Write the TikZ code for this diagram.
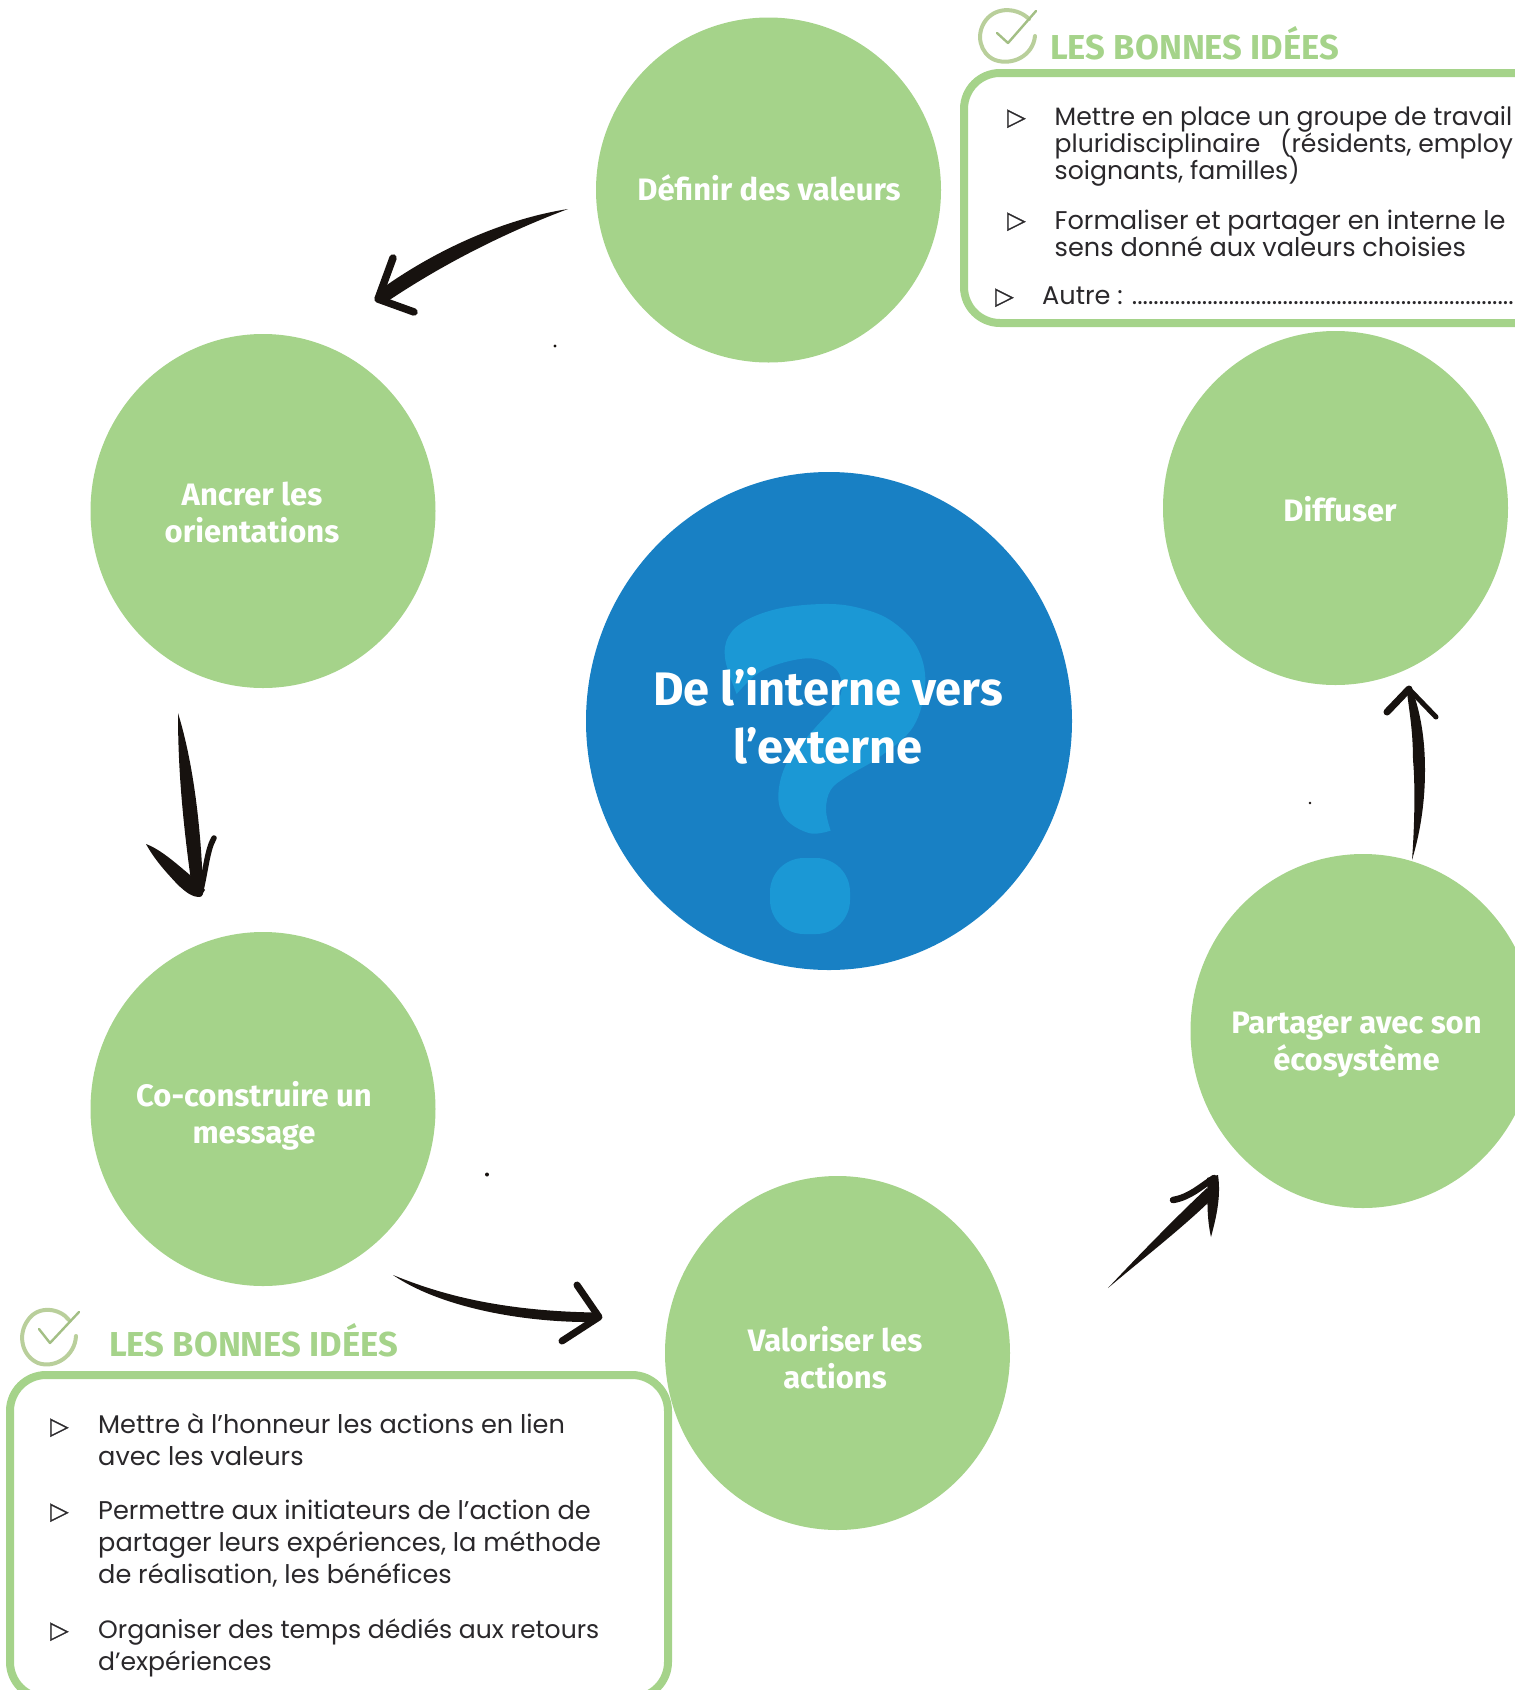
\documentclass[tikz,border=0pt]{standalone}
\usepackage{fontspec}
\setmainfont{Poppins}
\newfontfamily\circfont{Fira Sans}[UprightFont=* Bold]
\newfontfamily\bulfont{DejaVu Sans}[FakeBold=0.8]
\definecolor{vert}{HTML}{A5D38A}
\definecolor{bleu}{HTML}{1880C4}
\definecolor{bleuclair}{HTML}{1B98D5}
\definecolor{encre}{HTML}{2A282B}
\definecolor{pinceau}{HTML}{17120F}
\definecolor{icone}{HTML}{B9CF9B}
\definecolor{iconefonce}{HTML}{A3BF85}
\usetikzlibrary{shapes.geometric}
\newcommand{\serre}{\lineskiplimit -30pt\relax}
\tikzset{
  etape/.style={ellipse,fill=vert,inner sep=0pt,minimum width=345pt,minimum height=354pt},
  etlabel/.style={text=white,font=\circfont\fontsize{31}{37}\selectfont,align=center,inner sep=0pt,anchor=base},
  titre/.style={text=white,font=\circfont\fontsize{47}{57.5}\selectfont,align=center,inner sep=0pt,anchor=base},
  cadre/.style={draw=vert,line width=8pt,fill=white,rounded corners=36pt},
  entete/.style={text=vert,font=\circfont\fontsize{34.6}{34.6}\selectfont,inner sep=0pt,anchor=base west},
  corpsA/.style={text=encre,font=\serre\fontsize{25.6}{26.6}\selectfont,align=left,inner sep=0pt,anchor=base west},
  corpsAA/.style={text=encre,font=\serre\fontsize{25.1}{26.6}\selectfont,align=left,inner sep=0pt,anchor=base west},
  corpsB/.style={text=encre,font=\serre\fontsize{25.6}{32}\selectfont,align=left,inner sep=0pt,anchor=base west},
  corpsBB/.style={text=encre,font=\serre\fontsize{25.1}{32}\selectfont,align=left,inner sep=0pt,anchor=base west},
  puce/.style={text=encre,font=\bulfont\fontsize{24}{24}\selectfont,inner sep=0pt,anchor=base west},
  brosse/.style={fill=pinceau},
  barbe/.style={draw=pinceau,line cap=round,line join=round},
}
\begin{document}
\begin{tikzpicture}[x=1pt,y=-1pt]
\useasboundingbox (0,0) rectangle (1515,1690);
\clip (0,0) rectangle (1515,1690);
% boxes
\draw[cadre] (964,73) rectangle (1560,323);
\draw[cadre] (10,1375) rectangle (668,1698);
% step circles
\node[etape,minimum height=345pt] (definir) at (768.5,190) {};
\node[etape] (ancrer) at (263,511) {};
\node[etape] (coconstruire) at (263,1109) {};
\node[etape] (valoriser) at (837.5,1353) {};
\node[etape] (partager) at (1363,1031) {};
\node[etape] (diffuser) at (1335.5,508) {};
% centre
\node[ellipse,fill=bleu,inner sep=0pt,minimum width=486pt,minimum height=498pt] (centre) at (829,721) {};
\begin{scope}[shift={(580,470)},x=0.3333pt,y=-0.3333pt]
\fill[bleuclair] plot[smooth,tension=0.6] coordinates {(752,1082) (738,1020) (752,960) (800,920) (900,860) (1000,770) (1036,640) (1010,530) (930,450) (830,412) (730,402) (600,415) (500,450) (445,500) (436,570) (470,672)}
  -- plot[smooth,tension=0.6] coordinates {(470,672) (550,600) (680,565) (760,590) (785,640) (770,700) (700,780) (620,880) (595,980) (620,1050) (690,1090) (752,1082)} -- cycle;
\end{scope}
\fill[bleuclair,rounded corners=34pt] (770,858) rectangle (850,934);
\node[titre] (titrecentre) at (828,763) {De l’interne vers\\l’externe};
% labels
\node[etlabel] (ldefinir) at (769,200) {Définir des valeurs};
\node[etlabel] (lancrer) at (252,542) {Ancrer les\\orientations};
\node[etlabel] (lco) at (254,1143) {Co-construire un\\message};
\node[etlabel] (lval) at (835,1388) {Valoriser les\\actions};
\node[etlabel] (lpart) at (1356.5,1070) {Partager avec son\\écosystème};
\node[etlabel] (ldiff) at (1340,521.5) {Diffuser};
% headers
\node[entete] (h1) at (1050,59) {LES BONNES IDÉES};
\node[entete] (h2) at (109,1356) {LES BONNES IDÉES};
% check icons
\draw[icone,line width=4pt,line cap=round] (1029,19) .. controls (1018,8) and (997,6) .. (986,20) .. controls (975,34) and (980,54) .. (995,60) .. controls (1012,66) and (1033,56) .. (1035,36);
\draw[iconefonce,line width=2.4pt,line cap=round,line join=round] (997,33) -- (1008,43) -- (1036,11);
\draw[icone,line width=4pt,line cap=round] (69,1320) .. controls (60,1308) and (38,1305) .. (28,1320) .. controls (17,1335) and (22,1356) .. (38,1363) .. controls (55,1369) and (75,1356) .. (76,1336);
\draw[iconefonce,line width=2.4pt,line cap=round,line join=round] (39,1329) -- (50,1343) -- (79,1312);
% top box text
\node[puce] (p1) at (1007,125) {▷};
\node[corpsAA] (t1) at (1054.5,179) {Mettre en place un groupe de travail\\pluridisciplinaire\hspace{13pt} (résidents, employ\\soignants, familles)};
\node[puce] (p2) at (1007,228) {▷};
\node[corpsA] (t2) at (1054.5,256) {Formaliser et partager en interne le\\sens donné aux valeurs choisies};
\node[puce] (p3) at (995,304) {▷};
\node[corpsA] (t3) at (1042,304) {Autre : .......................................................................};
% bottom box text
\node[puce] (p4) at (50,1434) {▷};
\node[corpsB] (b1) at (98,1465) {Mettre à l’honneur les actions en lien\\avec les valeurs};
\node[puce] (p5) at (50,1519) {▷};
\node[corpsB] (b2) at (98,1583) {Permettre aux initiateurs de l’action de\\partager leurs expériences, la méthode\\de réalisation, les bénéfices};
\node[puce] (p6) at (50,1638) {▷};
\node[corpsBB] (b3) at (98,1670) {Organiser des temps dédiés aux retours\\d’expériences};
% arrows
\coordinate (a1s) at (568,209); \coordinate (a1e) at (378,299);
\fill[brosse] (a1s) .. controls (510,218) and (440,246) .. (377,292) -- (385,303) .. controls (447,261) and (512,230) .. (a1s) -- cycle;
\draw[barbe,line width=7.5pt] (393,258) -- (a1e) -- (414,312);
\coordinate (a2s) at (178,713); \coordinate (a2e) at (200,894);
\fill[brosse] (a2s) .. controls (178,760) and (181,810) .. (192,888) -- (203,888) .. controls (201,830) and (194,765) .. (a2s) -- cycle;
\fill[brosse] (146,844) .. controls (165,851) and (186,873) .. (199,882) -- (205,890) -- (200,897) .. controls (192,897) and (187,893) .. (178,885) .. controls (168,874) and (156,862) .. (146,844) -- cycle;
\draw[barbe,line width=5.5pt] (214,838) .. controls (207,850) and (206,870) .. (a2e);
\coordinate (a3s) at (393,1275); \coordinate (a3e) at (599,1317);
\fill[brosse] (a3s) .. controls (430,1290) and (490,1311) .. (596,1312.5) -- (596,1322) .. controls (520,1323) and (438,1306) .. (a3s) -- cycle;
\draw[barbe,line width=7pt] (577,1285) -- (a3e) -- (562,1341);
\coordinate (a4s) at (1108,1288); \coordinate (a4e) at (1214,1178);
\fill[brosse] (a4s) .. controls (1138,1256) and (1178,1215) .. (1207,1188) -- (1215,1196) .. controls (1186,1225) and (1146,1256) .. (a4s) -- cycle;
\draw[barbe,line width=6.5pt] (1173,1200) .. controls (1190,1197) and (1200,1187) .. (a4e);
\fill[brosse] (1211,1237) .. controls (1206,1215) and (1208,1195) .. (1207,1178) -- (1218,1175) .. controls (1221,1195) and (1217,1215) .. (1211,1237) -- cycle;
\coordinate (a5s) at (1412,860); \coordinate (a5e) at (1409,689);
\fill[brosse] (a5s) .. controls (1415,820) and (1415,780) .. (1413,760) .. controls (1413,730) and (1409,710) .. (1407,692) -- (1413,692) .. controls (1421,715) and (1425,740) .. (1425,770) .. controls (1425,800) and (1421,830) .. (a5s) -- cycle;
\draw[barbe,line width=7pt] (1387,712) -- (a5e);
\draw[barbe,line width=5pt] (a5e) -- (1436,717);
% specks
\fill[pinceau] (555,346) circle (1.6pt);
\fill[pinceau] (1310,803) circle (1.4pt);
\fill[pinceau] (487,1174.5) circle (2pt);
\end{tikzpicture}
\end{document}
